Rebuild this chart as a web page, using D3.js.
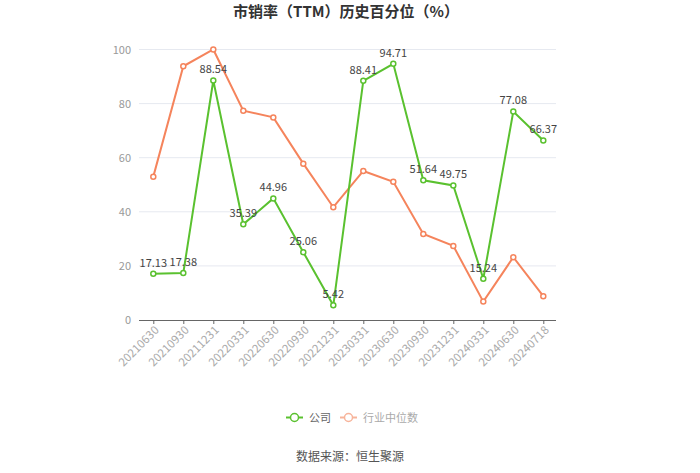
<!DOCTYPE html>
<html><head><meta charset="utf-8">
<script src="https://cdn.jsdelivr.net/npm/d3@7"></script>
<style>body{margin:0;background:#fff;font-family:"Microsoft YaHei","Noto Sans CJK SC",sans-serif;}</style>
</head><body><div id="chart"></div>
<script>
const categories = ["20210630","20210930","20211231","20220331","20220630","20220930","20221231","20230331","20230630","20230930","20231231","20240331","20240630","20240718"];
const companyValues = [17.13,17.38,88.54,35.39,44.96,25.06,5.42,88.41,94.71,51.64,49.75,15.24,77.08,66.37];
const industryValues = [53.0,93.8,100,77.4,74.9,57.8,41.7,55.1,51.1,31.8,27.4,6.8,23.2,8.8];
const yTicks = [0,20,40,60,80,100];
const seriesNames = ["公司","行业中位数"];

const W=700,H=473;
const svg=d3.select("#chart").append("svg").attr("width",W).attr("height",H);
const font='"Microsoft YaHei","Noto Sans CJK SC",sans-serif';
const green="#5ac12f", orange="#f5845c";

const x=d3.scalePoint().domain(categories).range([138.3,558.3]).padding(0.5);
const y=d3.scaleLinear().domain([0,100]).range([320,49.5]);

// title
svg.append("text").attr("x",346).attr("y",17).attr("text-anchor","middle")
  .style("font-family",font).style("font-size","15px").style("font-weight","bold").attr("fill","#333")
  .text("市销率（TTM）历史百分位（%）");

// grid
svg.append("g").selectAll("line").data(yTicks.filter(d=>d>0)).join("line")
  .attr("x1",139).attr("x2",556).attr("y1",d=>y(d)).attr("y2",d=>y(d))
  .attr("stroke","#e6e9f0").attr("stroke-width",1);

// y axis
const ya=svg.append("g").attr("transform","translate(139,0)")
  .call(d3.axisLeft(y).tickValues(yTicks).tickSize(0).tickPadding(8));
ya.select(".domain").remove();
ya.selectAll("text").style("font-family",font).style("font-size","11px").attr("fill","#999");

// x axis
const xa=svg.append("g").attr("transform","translate(0,320)")
  .call(d3.axisBottom(x).tickSize(4).tickSizeOuter(0));
xa.select(".domain").attr("stroke","#666").attr("d","M139,0.5H556");
xa.selectAll(".tick line").attr("stroke","#666");
xa.selectAll("text").style("font-family",font).style("font-size","11.5px").attr("fill","#aaa")
  .attr("text-anchor","end").attr("y",0).attr("transform","translate(3,8) rotate(-45)").attr("dy","0.35em").attr("dx","0");

function drawSeries(vals,color){
  const line=d3.line().x((d,i)=>x(categories[i])).y(d=>y(d));
  svg.append("path").datum(vals).attr("d",line).attr("fill","none").attr("stroke",color).attr("stroke-width",2);
  svg.append("g").selectAll("circle").data(vals).join("circle")
    .attr("cx",(d,i)=>x(categories[i])).attr("cy",d=>y(d)).attr("r",2.5)
    .attr("fill","#fff").attr("stroke",color).attr("stroke-width",1.5);
}
drawSeries(industryValues,orange);
drawSeries(companyValues,green);

// labels
svg.append("g").selectAll("text").data(companyValues).join("text")
  .attr("x",(d,i)=>x(categories[i])).attr("y",d=>y(d)-7).attr("text-anchor","middle")
  .style("font-family",font).style("font-size","11px").attr("fill","#444")
  .text(d=>d.toFixed(2));

// legend
const lg=svg.append("g");
const items=[{name:seriesNames[0],color:green,tc:"#666",x:286},{name:seriesNames[1],color:"#f7b49b",tc:"#aaa",x:340}];
items.forEach(it=>{
  lg.append("line").attr("x1",it.x).attr("x2",it.x+17).attr("y1",417.5).attr("y2",417.5).attr("stroke",it.color).attr("stroke-width",2);
  lg.append("circle").attr("cx",it.x+8.5).attr("cy",417.5).attr("r",4).attr("fill","#fff").attr("stroke",it.color).attr("stroke-width",1.5);
  lg.append("text").attr("x",it.x+23).attr("y",421.5).style("font-family",font).style("font-size","11px").attr("fill",it.tc).text(it.name);
});

// source
svg.append("text").attr("x",350).attr("y",461).attr("text-anchor","middle")
  .style("font-family",font).style("font-size","12px").attr("fill","#555").text("数据来源：恒生聚源");
</script></body></html>
